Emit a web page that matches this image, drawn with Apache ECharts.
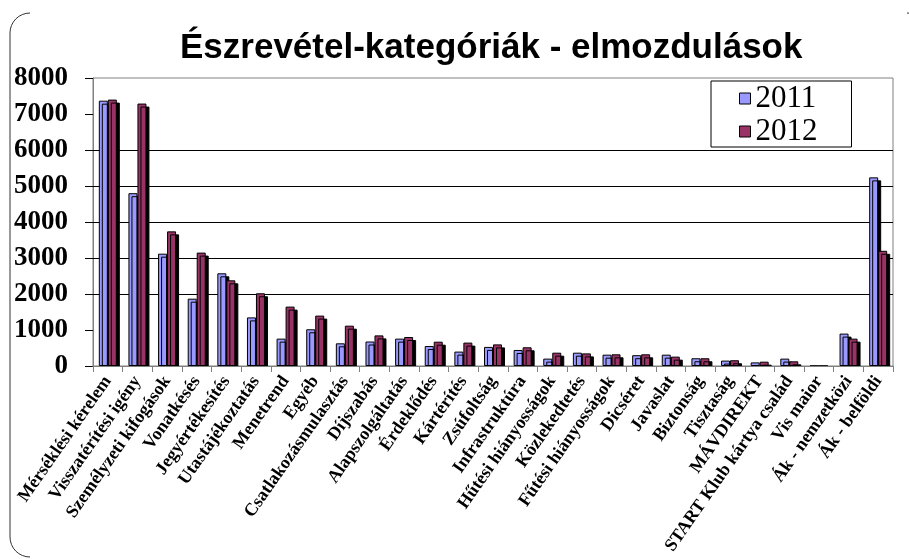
<!DOCTYPE html>
<html>
<head>
<meta charset="utf-8">
<script src="https://cdn.jsdelivr.net/npm/echarts@6/dist/echarts.min.js"></script>
<style>
  html, body { margin: 0; padding: 0; background: #fff; }
  #container { width: 909px; height: 559px; }
</style>
</head>
<body>
<div id="container"></div>
<script>
// kategóriák és értékek (leolvasva)
var categories = ['Mérséklési kérelem', 'Visszatérítési igény', 'Személyzeti kifogások', 'Vonatkésés',
  'Jegyértékesítés', 'Utastájékoztatás', 'Menetrend', 'Egyéb', 'Csatlakozásmulasztás', 'Díjszabás',
  'Alapszolgáltatás', 'Érdeklődés', 'Kártérítés', 'Zsúfoltság', 'Infrastruktúra', 'Hűtési hiányosságok',
  'Közlekedtetés', 'Fűtési hiányosságok', 'Dicséret', 'Javaslat', 'Biztonság', 'Tisztaság', 'MÁVDIREKT',
  'START Klub kártya család', 'Vis maior', 'Ák - nemzetközi', 'Ák - belföldi'];

var values2011 = [7370, 4800, 3120, 1870, 2575, 1350, 760, 1020, 630, 680,
  760, 555, 400, 530, 445, 205, 370, 315, 300, 315,
  215, 150, 100, 205, 5, 900, 5240];

var values2012 = [7400, 7290, 3740, 3150, 2380, 2020, 1650, 1400, 1120, 850,
  805, 675, 650, 600, 520, 370, 350, 325, 325, 260,
  215, 160, 120, 130, 5, 760, 3200];

var seriesNames = ['2011', '2012'];
var yMax = 8000;
var yStep = 1000;
var gridValues = [2000, 3000, 4000, 5000, 6000];   // látható rácsvonalak

var dom = document.getElementById('container');
var myChart = echarts.init(dom, null, { renderer: 'canvas' });

var serif = 'Liberation Serif';

var barStyle = function (color) {
  return {
    color: color,
    borderColor: '#000',
    borderWidth: 1,
    shadowColor: '#000',
    shadowBlur: 0,
    shadowOffsetX: 3,
    shadowOffsetY: 3
  };
};

var gridData = gridValues.map(function (v) { return [0, v]; });

var option = {
  backgroundColor: '#fff',
  animation: false,
  title: {
    text: 'Észrevétel-kategóriák - elmozdulások',
    left: 175,
    top: 26,
    textStyle: {
      fontFamily: 'Liberation Sans',
      fontWeight: 'bold',
      fontSize: 35,
      color: '#000'
    }
  },
  legend: {
    data: seriesNames,
    orient: 'vertical',
    left: 711,
    top: 81,
    padding: [2, 34, 0, 28],
    itemGap: 2,
    itemWidth: 11,
    itemHeight: 11,
    icon: 'rect',
    borderColor: '#000',
    borderWidth: 1,
    itemStyle: {
      borderColor: '#000',
      borderWidth: 1,
      shadowColor: 'transparent',
      shadowOffsetX: 0,
      shadowOffsetY: 0
    },
    textStyle: {
      fontFamily: serif,
      fontSize: 31,
      color: '#000'
    }
  },
  grid: { left: 93, right: 16, top: 78, bottom: 193, show: true, borderColor: '#808080', borderWidth: 1 },
  xAxis: {
    type: 'category',
    data: categories,
    z: 200,
    axisLine: { lineStyle: { color: '#808080', width: 1 } },
    axisTick: { show: true, length: 6, lineStyle: { color: '#808080' } },
    axisLabel: {
      interval: 0,
      rotate: 55,
      margin: 12,
      fontFamily: serif,
      fontWeight: 'bold',
      fontSize: 18,
      color: '#000'
    }
  },
  yAxis: {
    type: 'value',
    min: 0,
    max: yMax,
    interval: yStep,
    axisLine: { show: true, lineStyle: { color: '#808080', width: 1 } },
    axisTick: { show: true, length: 8, lineStyle: { color: '#000' } },
    splitLine: { show: false },
    axisLabel: {
      margin: 25,
      fontFamily: serif,
      fontWeight: 'bold',
      fontSize: 27,
      color: '#000',
      formatter: function (v) { return String(v); }
    }
  },
  graphic: [
    // kilógó árnyék eltakarása a tengely alatt
    { type: 'rect', z: 100, silent: true, shape: { x: 93, y: 367, width: 804, height: 3 }, style: { fill: '#fff' } },
    // lekerekített külső keret
    { type: 'line', silent: true, shape: { x1: 10, y1: 33, x2: 10, y2: 537 }, style: { stroke: '#333', lineWidth: 1 } },
    { type: 'arc', silent: true, shape: { cx: 30, cy: 33, r: 20, startAngle: Math.PI, endAngle: Math.PI * 1.5 }, style: { stroke: '#333', fill: null, lineWidth: 1 } },
    { type: 'arc', silent: true, shape: { cx: 30, cy: 537, r: 20, startAngle: Math.PI * 0.5, endAngle: Math.PI }, style: { stroke: '#333', fill: null, lineWidth: 1 } },
    { type: 'arc', silent: true, shape: { cx: 907, cy: 33, r: 20, startAngle: Math.PI * 1.5, endAngle: Math.PI * 1.75 }, style: { stroke: '#333', fill: null, lineWidth: 1 } }
  ],
  series: [
    {
      // rácsvonalak a tengely skáláján, oszlopok mögött
      name: 'rács',
      type: 'custom',
      z: 1,
      silent: true,
      data: gridData,
      renderItem: function (params, api) {
        var cs = params.coordSys;
        var y = Math.round(api.coord([0, api.value(1)])[1]) + 0.5;
        return {
          type: 'line',
          shape: { x1: cs.x, y1: y, x2: cs.x + cs.width, y2: y },
          style: { stroke: '#000', lineWidth: 1 }
        };
      }
    },
    {
      name: seriesNames[0],
      type: 'bar',
      barWidth: 9,
      barGap: '0%',
      data: values2011,
      itemStyle: barStyle('#9999FF')
    },
    {
      name: seriesNames[1],
      type: 'bar',
      barWidth: 9,
      barGap: '0%',
      data: values2012,
      itemStyle: barStyle('#993366')
    }
  ]
};

if (option && typeof option === 'object') {
  myChart.setOption(option);
}

window.addEventListener('resize', myChart.resize);
</script>
</body>
</html>
